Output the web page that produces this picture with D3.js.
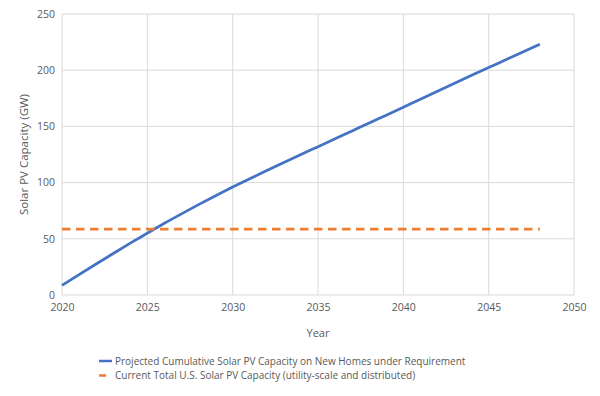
<!DOCTYPE html>
<html>
<head>
<meta charset="utf-8">
<script src="https://cdn.jsdelivr.net/npm/d3@7"></script>
<style>
body { margin: 0; background: #fff; }
text { font-family: "Open Sans", "Noto Sans", sans-serif; fill: #595959; }
</style>
</head>
<body>
<svg id="chart" width="600" height="396"></svg>
<script>
const years = [2020,2021,2022,2023,2024,2025,2026,2027,2028,2029,2030,2031,2032,2033,2034,2035,2036,2037,2038,2039,2040,2041,2042,2043,2044,2045,2046,2047,2048];
const projected = [8.5,18.1,27.6,36.9,46.1,55.0,63.8,72.2,80.4,88.3,96.0,103.4,110.7,117.9,125.0,132.0,139.0,146.0,153.0,160.0,167.0,174.2,181.3,188.3,195.4,202.3,209.3,216.2,223.0];
const currentTotal = 58.5;
const xTicks = [2020,2025,2030,2035,2040,2045,2050];
const yTicks = [0,50,100,150,200,250];
const seriesNames = ["Projected Cumulative Solar PV Capacity on New Homes under Requirement",
                     "Current Total U.S. Solar PV Capacity (utility-scale and distributed)"];
const colors = ["#4472C4", "#ED7D31"];

const svg = d3.select("#chart");
const m = {left: 62, right: 26, top: 14, bottom: 101};
const W = 600, H = 396;
const x = d3.scaleLinear().domain([2020, 2050]).range([m.left, W - m.right]);
const y = d3.scaleLinear().domain([0, 250]).range([H - m.bottom, m.top]);

// gridlines
const g = svg.append("g");
g.selectAll("line.h").data(yTicks).join("line")
  .attr("x1", x(2020)).attr("x2", x(2050))
  .attr("y1", d => y(d)).attr("y2", d => y(d))
  .attr("stroke", "#D9D9D9").attr("stroke-width", 1);
g.selectAll("line.v").data(xTicks).join("line")
  .attr("x1", d => x(d)).attr("x2", d => x(d))
  .attr("y1", y(0)).attr("y2", y(250))
  .attr("stroke", "#D9D9D9").attr("stroke-width", 1);

// axes (text only)
const xAxis = d3.axisBottom(x).tickValues(xTicks).tickFormat(d3.format("d")).tickSize(0).tickPadding(9);
const xg = svg.append("g").attr("transform", `translate(0,${y(0)})`).call(xAxis);
xg.select(".domain").remove();
xg.selectAll("text").attr("font-size", "10.5px").attr("fill", "#595959").attr("font-family", "Open Sans");

const yAxis = d3.axisLeft(y).tickValues(yTicks).tickSize(0).tickPadding(7);
const yg = svg.append("g").attr("transform", `translate(${x(2020)},0)`).call(yAxis);
yg.select(".domain").remove();
yg.selectAll("text").attr("font-size", "10.5px").attr("fill", "#595959").attr("font-family", "Open Sans");

// series
const line = d3.line().x((d, i) => x(years[i])).y(d => y(d)).curve(d3.curveMonotoneX);
svg.append("path").datum(projected)
  .attr("d", line).attr("fill", "none")
  .attr("stroke", colors[0]).attr("stroke-width", 2.75).attr("stroke-linejoin", "round");

svg.append("path").datum(years.map(() => currentTotal))
  .attr("d", line).attr("fill", "none")
  .attr("stroke", colors[1]).attr("stroke-width", 2.75)
  .attr("stroke-dasharray", "8.5,5.5");

// axis titles
svg.append("text").attr("x", (x(2020) + x(2050)) / 2).attr("y", 337)
  .attr("text-anchor", "middle").attr("font-size", "11px").text("Year");
svg.append("text").attr("transform", `translate(28,${(y(0)+y(250))/2}) rotate(-90)`)
  .attr("text-anchor", "middle").attr("font-size", "11.5px").text("Solar PV Capacity (GW)");

// legend
const leg = svg.append("g");
seriesNames.forEach((name, i) => {
  const ly = 361 + i * 14.5;
  leg.append("line").attr("x1", 99).attr("x2", i === 0 ? 112 : 106)
    .attr("y1", ly).attr("y2", ly)
    .attr("stroke", colors[i]).attr("stroke-width", 2.5);
  leg.append("text").attr("x", 115).attr("y", ly + 3.8)
    .attr("font-size", "10px").text(name);
});
</script>
</body>
</html>
